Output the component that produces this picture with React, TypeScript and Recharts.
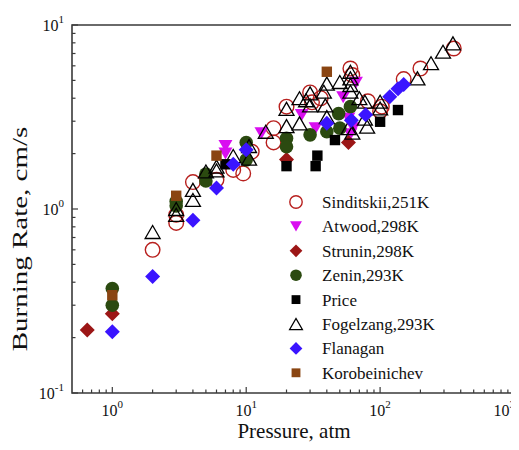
import { ScatterChart, Scatter, XAxis, YAxis, ReferenceArea } from "recharts";

// pressure (atm), burning rate (cm/s)
const sinditskii = [
  [2, 0.6], [3, 0.93], [3, 0.84], [4, 1.4], [6, 1.44], [8, 1.63], [9.5, 1.56], [11, 2.05],
  [16, 2.75], [16, 2.3], [20, 3.6], [30, 4.3], [31, 3.8], [36, 4.0], [60, 5.8], [62, 5.35],
  [81, 3.85], [100, 3.4], [103, 3.6], [150, 5.08], [200, 5.8], [355, 7.45],
];
const atwood = [
  [7, 2.2], [7, 2.0], [13, 2.58], [26, 3.24], [33, 2.75], [53, 4.05], [66, 4.85],
  [58, 3.1], [63, 2.75], [60, 2.55],
];
const strunin = [[0.65, 0.22], [1, 0.27], [20, 1.86], [58, 2.3]];
const zenin = [
  [1, 0.3], [1, 0.37], [3, 1.1], [3, 1.04], [5, 1.55], [5, 1.42], [10, 2.3], [10, 1.85],
  [20, 2.42], [20, 2.18], [30, 2.53], [40, 2.63], [49, 3.3], [50, 2.75], [60, 3.6],
];
const price = [[7, 1.75], [20, 1.71], [33, 1.71], [34, 1.95], [46, 2.37], [100, 2.98], [136, 3.45]];
const fogelzang = [
  [2, 0.75], [3, 1.0], [3, 0.93], [4, 1.27], [4, 1.12], [5, 1.6], [6, 1.7], [6, 1.62], [8, 1.94],
  [10.5, 2.2], [10.5, 1.88], [14, 2.63], [20, 3.5], [20, 2.82], [25, 4.0], [25, 2.92], [28, 3.9],
  [30, 4.25], [30, 3.66], [38, 4.34], [39, 3.66], [40, 4.8], [40, 3.16], [50, 4.9], [60, 5.57],
  [60, 5.13], [60, 4.72], [60, 4.34], [70, 4.0], [77, 3.83], [58, 2.75], [62, 2.6], [77, 3.1],
  [80, 2.8], [100, 3.83], [100, 3.52], [190, 5.13], [240, 6.2], [295, 7.16], [350, 7.95],
];
const flanagan = [
  [1, 0.215], [2, 0.43], [4, 0.87], [6, 1.3], [8, 1.75], [10, 2.1], [40, 2.92], [61, 3.04],
  [78, 3.25], [118, 4.08], [136, 4.5], [150, 4.75],
];
const korobeinichev = [[1, 0.34], [3, 1.18], [6, 1.95], [40, 5.57]];

const xMajor = [1, 10, 100, 1000];
const xMinor = [0.6, 0.7, 0.8, 0.9, 2, 3, 4, 5, 6, 7, 8, 9, 20, 30, 40, 50, 60, 70, 80, 90, 200, 300, 400, 500, 600, 700, 800, 900];
const yMajor = [0.1, 1, 10];
const yMinor = [0.2, 0.3, 0.4, 0.5, 0.6, 0.7, 0.8, 0.9, 2, 3, 4, 5, 6, 7, 8, 9];

const FONT = "Liberation Serif";
const AXIS = "#3a3a3a";

const toPts = (arr: number[][]) => arr.map(([p, r]) => ({ p, r }));

type Kind = "circleOpen" | "circle" | "triDown" | "triOpen" | "diamond" | "square";

const Marker = ({ kind, cx, cy, color, s = 1 }: { kind: Kind; cx: number; cy: number; color: string; s?: number }) => {
  switch (kind) {
    case "circleOpen":
      return <circle cx={cx} cy={cy} r={7.3 * s} fill="none" stroke={color} strokeWidth={1.4} />;
    case "circle":
      return <circle cx={cx} cy={cy} r={6.8 * s} fill={color} />;
    case "triDown": {
      const w = 7 * s, h = 6 * s;
      return <polygon points={`${cx - w},${cy - h} ${cx + w},${cy - h} ${cx},${cy + h}`} fill={color} />;
    }
    case "triOpen": {
      const w = 7.5 * s, h = 6.5 * s;
      return <polygon points={`${cx - w},${cy + h} ${cx + w},${cy + h} ${cx},${cy - h}`} fill="none" stroke={color} strokeWidth={1.3} />;
    }
    case "diamond": {
      const d = 7.5 * s;
      return <polygon points={`${cx},${cy - d} ${cx + d},${cy} ${cx},${cy + d} ${cx - d},${cy}`} fill={color} />;
    }
    default: {
      const h = 5.2 * s;
      return <rect x={cx - h} y={cy - h} width={2 * h} height={2 * h} fill={color} />;
    }
  }
};

const series: { name: string; data: number[][]; kind: Kind; color: string }[] = [
  { name: "Sinditskii,251K", data: sinditskii, kind: "circleOpen", color: "#b8201e" },
  { name: "Atwood,298K", data: atwood, kind: "triDown", color: "#d90ef0" },
  { name: "Strunin,298K", data: strunin, kind: "diamond", color: "#9c1616" },
  { name: "Zenin,293K", data: zenin, kind: "circle", color: "#2b4a10" },
  { name: "Price", data: price, kind: "square", color: "#000000" },
  { name: "Fogelzang,293K", data: fogelzang, kind: "triOpen", color: "#000000" },
  { name: "Flanagan", data: flanagan, kind: "diamond", color: "#3a14ff" },
  { name: "Korobeinichev", data: korobeinichev, kind: "square", color: "#8a4512" },
];

const exp = (v: number) => Math.round(Math.log10(v));
const txt = { fontFamily: FONT, fill: "#111" };

const XTick = ({ x, y, payload }: any) => {
  const major = xMajor.includes(payload.value);
  const last = payload.value === 1000;
  return (
    <g>
      <line x1={x} x2={x} y1={y} y2={y - (major ? 6 : 3.5)} stroke={AXIS} strokeWidth={1.2} />
      {major && (
        <text x={last ? x + 1 : x} y={y + 23} textAnchor={last ? "end" : "middle"} fontSize={16} style={txt}>
          10<tspan dy={-8} fontSize={11}>{exp(payload.value)}</tspan>
        </text>
      )}
    </g>
  );
};

const YTick = ({ x, y, payload }: any) => {
  const major = yMajor.includes(payload.value);
  return (
    <g>
      <line x1={x} x2={x + (major ? 6 : 3.5)} y1={y} y2={y} stroke={AXIS} strokeWidth={1.2} />
      {major && (
        <text x={x - 8} y={y + 6} textAnchor="end" fontSize={16} style={txt}>
          10<tspan dy={-8} fontSize={11}>{exp(payload.value)}</tspan>
        </text>
      )}
    </g>
  );
};

export default function App() {
  return (
    <div style={{ position: "relative", width: 511, height: 434 }}>
      <ScatterChart width={511} height={434} margin={{ top: 17, right: 5, bottom: 0, left: 0 }}>
        <XAxis
          dataKey="p"
          type="number"
          scale="log"
          domain={[0.5, 1000]}
          allowDataOverflow
          ticks={[...xMinor, ...xMajor]}
          interval={0}
          tick={<XTick />}
          tickLine={false}
          axisLine={false}
          tickSize={0}
          tickMargin={0}
          height={49}
        />
        <YAxis
          dataKey="r"
          type="number"
          scale="log"
          domain={[0.1, 10]}
          allowDataOverflow
          ticks={[...yMinor, ...yMajor]}
          interval={0}
          tick={<YTick />}
          tickLine={false}
          axisLine={false}
          tickSize={0}
          tickMargin={0}
          width={64}
        />
        <ReferenceArea x1={0.5} x2={1000} y1={0.1} y2={10} fill="none" stroke={AXIS} strokeWidth={1.6} ifOverflow="visible" />
        {series.map((s) => (
          <Scatter
            key={s.name}
            name={s.name}
            data={toPts(s.data)}
            isAnimationActive={false}
            shape={(props: any) => <Marker kind={s.kind} cx={props.cx} cy={props.cy} color={s.color} />}
          />
        ))}
      </ScatterChart>
      <svg width={511} height={434} style={{ position: "absolute", left: 0, top: 0, pointerEvents: "none" }}>
        <text x={286} y={430} textAnchor="middle" fontSize={21} style={txt}>
          Pressure, atm
        </text>
        <text transform="translate(19, 231) rotate(-90) scale(1.45, 1)" textAnchor="middle" fontSize={20} style={txt}>
          Burning Rate, cm/s
        </text>
        {series.map((s, i) => (
          <g key={s.name}>
            <Marker kind={s.kind} cx={288} cy={194 + i * 24.4} color={s.color} s={0.85} />
            <text x={314} y={194 + i * 24.4 + 6} fontSize={17} style={txt}>
              {s.name}
            </text>
          </g>
        ))}
      </svg>
    </div>
  );
}
